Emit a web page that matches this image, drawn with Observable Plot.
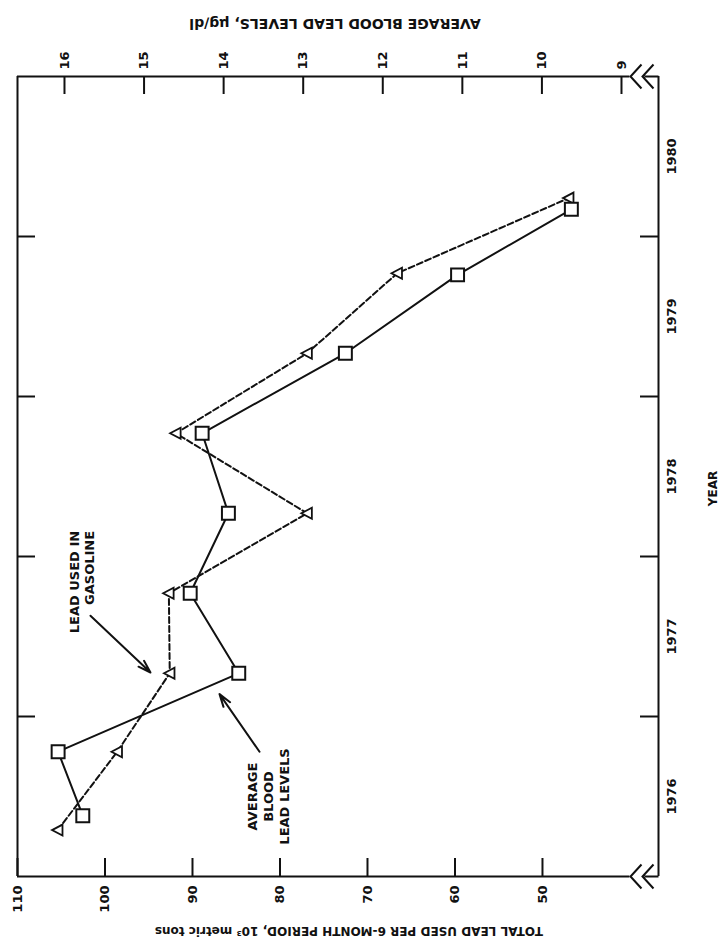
<!DOCTYPE html>
<html>
<head>
<meta charset="utf-8">
<script src="https://cdn.jsdelivr.net/npm/d3@7"></script>
<script src="https://cdn.jsdelivr.net/npm/@observablehq/plot@0.6"></script>
<style>
  html, body { margin: 0; padding: 0; background: #fff; }
  g[aria-label="top-title"] text { letter-spacing: 1.6px; }
  g[aria-label="bottom-title"] text { letter-spacing: 1px; }
</style>
</head>
<body>
<div id="chart"></div>
<script>
// ---- data ----
const yearLabels = [1976, 1977, 1978, 1979, 1980];
const yearBoundaries = [1977, 1978, 1979, 1980];
const gasTicks = [110, 100, 90, 80, 70, 60, 50];
const bloodTicks = [16, 15, 14, 13, 12, 11, 10, 9];

// Average blood lead levels (µg/dl), squares, solid line
const bloodYears = [1976.38, 1976.78, 1977.27, 1977.77, 1978.27, 1978.77, 1979.27, 1979.76, 1980.17];
const bloodLevels = [15.77, 16.08, 13.81, 14.42, 13.94, 14.27, 12.47, 11.06, 9.63];

// Lead used in gasoline (10^3 metric tons per 6-month period), triangles, dashed line
const gasYears = [1976.29, 1976.78, 1977.27, 1977.77, 1978.27, 1978.77, 1979.27, 1979.77, 1980.24];
const gasLead = [105.4, 98.6, 92.6, 92.7, 76.9, 91.9, 76.9, 66.6, 47.0];

const topTitleMain = "AVERAGE BLOOD LEAD LEVELS, ";
const topTitleUnit = "\u00b5g/dl";
const bottomTitleMain = "TOTAL LEAD USED PER 6-MONTH PERIOD, 10\u00b3";
const bottomTitleUnit = " metric tons";
const yearTitle = "YEAR";

const annotationText = ["LEAD USED IN\nGASOLINE", "AVERAGE\nBLOOD\nLEAD LEVELS"];
const annotationGas = [102.7, 81.4];
const annotationYear = [1978.16, 1976.5];
const arrowFromGas = [101.66, 82.34];
const arrowFromYear = [1977.63, 1976.78];
const arrowToGas = [94.8, 86.91];
const arrowToYear = [1977.275, 1977.14];

// ---- scales / layout ----
const W = 723, H = 940;
const mL = 17, mR = 65, mT = 76, mB = 64;
const frameW = W - mL - mR, frameH = H - mT - mB;
const xDomain = [110, 36.74];         // gasoline axis (bottom), reversed
const yDomain = [1976, 1981];
const axisBreakAt = 40;              // where the horizontal axis lines stop
// secondary (top) axis: blood lead levels aligned onto the gasoline axis
const bloodToGas = d3.scaleLinear().domain([16, 9]).range([104.63, 40.97]);

const blood = bloodYears.map((y, i) => ({year: y, value: bloodLevels[i]}));
const gas = gasYears.map((y, i) => ({year: y, value: gasLead[i]}));
const annotations = annotationText.map((t, i) => ({text: t, x: annotationGas[i], y: annotationYear[i]}));
const arrows = arrowFromGas.map((d, i) => ({x1: d, y1: arrowFromYear[i], x2: arrowToGas[i], y2: arrowToYear[i]}));

const ink = "#111";
const triangleLeft = {
  draw(ctx, size) {
    const r = Math.sqrt(size / Math.PI);
    ctx.moveTo(-1.15 * r, 0);
    ctx.lineTo(0.95 * r, -1.1 * r);
    ctx.lineTo(0.95 * r, 1.1 * r);
    ctx.closePath();
  }
};
const axisBreak = {
  draw(ctx) {
    ctx.moveTo(-17, -12); ctx.lineTo(-28, 0); ctx.lineTo(-17, 12);
    ctx.moveTo(-5, -12); ctx.lineTo(-16, 0); ctx.lineTo(-5, 12);
    ctx.moveTo(-14, 0); ctx.lineTo(0, 0);
  }
};

const fontMain = "'DejaVu Sans', 'Liberation Sans', sans-serif";

const chart = Plot.plot({
  width: W, height: H,
  marginLeft: mL, marginRight: mR, marginTop: mT, marginBottom: mB,
  x: {domain: xDomain, axis: null},
  y: {domain: yDomain, axis: null},
  style: {background: "#fff", color: ink, fontFamily: fontMain},
  marks: [
    // frame
    Plot.ruleX([xDomain[0]], {stroke: ink, strokeWidth: 2}),
    Plot.ruleX([xDomain[1]], {stroke: ink, strokeWidth: 2}),
    Plot.ruleY([yDomain[0], yDomain[1]], {x1: xDomain[0], x2: axisBreakAt, stroke: ink, strokeWidth: 2}),
    Plot.dot([0], {frameAnchor: "top-right", symbol: axisBreak, r: 10, stroke: ink, strokeWidth: 2, fill: "none"}),
    Plot.dot([0], {frameAnchor: "bottom-right", symbol: axisBreak, r: 10, stroke: ink, strokeWidth: 2, fill: "none"}),
    // ticks (inward)
    Plot.tickX(gasTicks, {x: d => d, insetTop: frameH - 18, stroke: ink, strokeWidth: 2}),
    Plot.tickX(bloodTicks, {x: d => bloodToGas(d), insetBottom: frameH - 18, stroke: ink, strokeWidth: 2}),
    Plot.tickY(yearBoundaries, {y: d => d, insetRight: frameW - 18, stroke: ink, strokeWidth: 2}),
    Plot.tickY(yearBoundaries, {y: d => d, insetLeft: frameW - 18, stroke: ink, strokeWidth: 2}),
    // tick labels
    Plot.text(gasTicks, {x: d => d, text: d => String(d), frameAnchor: "bottom", dy: 9, rotate: -90,
      textAnchor: "end", lineAnchor: "middle", fontSize: 13, fontWeight: "bold", fill: ink}),
    Plot.text(bloodTicks, {x: d => bloodToGas(d), text: d => String(d), frameAnchor: "top", dy: -7, rotate: -90,
      textAnchor: "start", lineAnchor: "middle", fontSize: 13, fontWeight: "bold", fill: ink}),
    Plot.text(yearLabels, {y: d => d + 0.5, text: d => String(d), frameAnchor: "right", dx: 13, rotate: -90,
      textAnchor: "middle", lineAnchor: "middle", fontSize: 13, fontWeight: "bold", fill: ink}),
    // axis titles
    Plot.text([topTitleMain + topTitleUnit], {text: d => d, frameAnchor: "top", dy: -53, dx: -3, rotate: 180,
      textAnchor: "middle", lineAnchor: "middle", fontSize: 14, fontWeight: "bold", fill: ink, ariaLabel: "top-title"}),
    Plot.text([bottomTitleMain + bottomTitleUnit], {text: d => d, frameAnchor: "bottom", dy: 54, dx: 11, rotate: 180,
      textAnchor: "middle", lineAnchor: "middle", fontSize: 12, fontWeight: "bold", fill: ink, ariaLabel: "bottom-title"}),
    Plot.text([yearTitle], {text: d => d, frameAnchor: "right", dx: 55, dy: 12, rotate: -90,
      textAnchor: "middle", lineAnchor: "middle", fontSize: 12, fontWeight: "bold", fill: ink}),
    // series lines
    Plot.line(gas, {x: "value", y: "year", stroke: ink, strokeWidth: 2, strokeDasharray: "6,3"}),
    Plot.line(blood, {x: d => bloodToGas(d.value), y: "year", stroke: ink, strokeWidth: 2}),
    // markers
    Plot.dot(gas, {x: "value", y: "year", symbol: triangleLeft, r: 5, fill: "#fff", stroke: ink, strokeWidth: 1.8}),
    Plot.dot(blood, {x: d => bloodToGas(d.value), y: "year", symbol: "square", r: 7.3, fill: "#fff", stroke: ink, strokeWidth: 2}),
    // annotations
    Plot.arrow(arrows, {x1: "x1", y1: "y1", x2: "x2", y2: "y2", stroke: ink, strokeWidth: 2, headLength: 10, headAngle: 35}),
    Plot.text(annotations.slice(0, 1), {x: "x", y: "y", text: "text", rotate: -90, textAnchor: "end",
      lineAnchor: "middle", lineHeight: 1.2, fontSize: 13, fontWeight: "bold", fill: ink}),
    Plot.text(annotations.slice(1), {x: "x", y: "y", text: "text", rotate: -90, textAnchor: "middle",
      lineAnchor: "middle", lineHeight: 1.25, fontSize: 13, fontWeight: "bold", fill: ink})
  ]
});

// smaller unit parts inside the axis titles
function styleTitle(label, parts) {
  const t = chart.querySelector(`g[aria-label="${label}"] text`);
  if (!t) return;
  while (t.firstChild) t.removeChild(t.firstChild);
  const sel = d3.select(t);
  for (const p of parts) {
    const s = sel.append("tspan").text(p.text);
    if (p.size) s.attr("font-size", p.size);
    if (p.weight) s.attr("font-weight", p.weight);
  }
}
styleTitle("top-title", [{text: topTitleMain}, {text: topTitleUnit, size: 10, weight: "normal"}]);
styleTitle("bottom-title", [{text: bottomTitleMain}, {text: bottomTitleUnit, size: 9, weight: "normal"}]);

document.getElementById("chart").append(chart);
</script>
</body>
</html>
